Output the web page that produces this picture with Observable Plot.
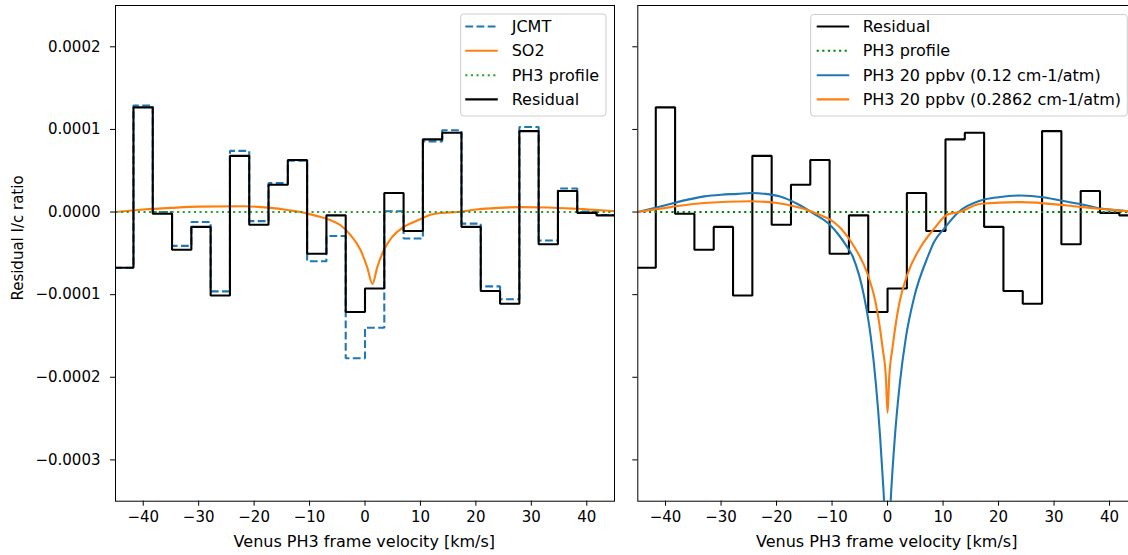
<!DOCTYPE html>
<html><head><meta charset="utf-8">
<script src="https://cdn.jsdelivr.net/npm/d3@7"></script>
<script src="https://cdn.jsdelivr.net/npm/@observablehq/plot@0.6"></script>
<style>
html,body{margin:0;padding:0;background:#fff;overflow:hidden;}
#wrap{position:relative;width:1128px;height:555px;overflow:hidden;font-family:"DejaVu Sans",sans-serif;}
.panel{position:absolute;top:0;}
#overlay{position:absolute;left:0;top:0;pointer-events:none;}
</style></head><body><div id="wrap"></div><script>
// ---- data (residual values in units of 1e-4) ----
const SCALE = 1e-4;
const velocity = [-43.50,-40.02,-36.54,-33.06,-29.58,-26.10,-22.62,-19.14,-15.66,-12.18,-8.70,-5.22,-1.74,
                  1.74,5.22,8.70,12.18,15.66,19.14,22.62,26.10,29.58,33.06,36.54,40.02,43.50];
const residualE4 = [-0.675,1.267,-0.02,-0.456,-0.18,-1.01,0.68,-0.153,0.33,0.63,-0.505,-0.04,-1.21,
                    -0.926,0.23,-0.23,0.88,0.96,-0.18,-0.955,-1.11,0.98,-0.39,0.255,-0.01,-0.04];
const jcmtE4 = [-0.675,1.29,0.0,-0.41,-0.12,-0.96,0.74,-0.11,0.35,0.62,-0.595,-0.29,-1.77,
                -1.40,0.01,-0.32,0.855,0.99,-0.14,-0.90,-1.055,1.03,-0.345,0.285,0.005,-0.035];
const so2Vel = [-45,-40,-35,-30,-22,-17,-14,-11.6,-10,-8,-6.2,-4.4,-2.6,-0.8,0.4,1.35,2.2,3.4,4.9,7.0,9.5,12,14,16.7,20,24,28,33,38,42,45];
const so2E4  = [0,0.03,0.05,0.065,0.07,0.05,0.025,0,-0.025,-0.06,-0.10,-0.16,-0.28,-0.46,-0.67,-0.87,-0.67,-0.46,-0.30,-0.18,-0.10,-0.03,-0.01,0,0.03,0.05,0.06,0.055,0.04,0.025,0.01];
const profileVel = [-45,45];
const profileE4 = [0,0];
const ph3LowVel = [-45,-42,-39,-36,-33,-30,-27,-24.5,-22,-19.5,-16.3,-13.3,-10.3,-9,-7.5,-6.2,-4.2,-3.0,-2.1,-1.33,-0.72,0,0.6,1.31,2.2,3.3,4.8,7.2,8.4,10.2,12.8,16.8,20,24,28,31.2,34.5,37.8,41,45];
const ph3LowE4  = [0,0.05,0.10,0.15,0.19,0.21,0.22,0.23,0.22,0.19,0.10,-0.02,-0.16,-0.26,-0.40,-0.55,-1.03,-1.52,-2.08,-2.73,-3.38,-4.3,-3.45,-2.73,-2.08,-1.52,-1.03,-0.55,-0.36,-0.20,0,0.14,0.18,0.20,0.18,0.14,0.10,0.05,0.025,0];
const ph3HighVel = [-45,-39.1,-33.1,-24.7,-19.9,-16.3,-12.7,-9.7,-8.4,-6.0,-3.6,-2.1,-0.9,-0.3,0,0.3,0.9,2.1,3.6,6.0,8.4,10.8,12.9,16.8,24,32.4,38,43.4,45];
const ph3HighE4  = [0,0.06,0.11,0.13,0.11,0.06,-0.02,-0.12,-0.2,-0.42,-0.75,-1.11,-1.64,-2.0,-2.43,-2.0,-1.64,-1.11,-0.75,-0.42,-0.2,-0.03,0,0.10,0.12,0.08,0.04,0.01,0];
const xTicks = [-40,-30,-20,-10,0,10,20,30,40];
const yTicks = [-0.0003,-0.0002,-0.0001,0,0.0001,0.0002];
const xLabel = "Venus PH3 frame velocity [km/s]";
const yLabel = "Residual I/c ratio";
const leftLegend = ["JCMT","SO2","PH3 profile","Residual"];
const rightLegend = ["Residual","PH3 profile","PH3 20 ppbv (0.12 cm-1/atm)","PH3 20 ppbv (0.2862 cm-1/atm)"];

// ---- helpers ----
function steps(cs, vs){
  const pts=[];
  for(let i=0;i<cs.length;i++){
    const lo = i>0 ? (cs[i-1]+cs[i])/2 : cs[0]-(cs[1]-cs[0])/2;
    const hi = i<cs.length-1 ? (cs[i]+cs[i+1])/2 : cs[i]+(cs[i]-cs[i-1])/2;
    pts.push({v:lo,y:vs[i]*SCALE},{v:hi,y:vs[i]*SCALE});
  }
  return pts;
}
const pairs=(xs,ys)=>xs.map((x,i)=>({v:x,y:ys[i]*SCALE}));

const C0="#1f77b4", C1="#ff7f0e", C2="#2ca02c", G="#008000";
const LW=2.1, DASH="7.8,3.4", DOT="2.1,3.5";
const common = {
  height:555, marginTop:5, marginBottom:54.3,
  x:{domain:[-45,45]}, y:{domain:[-0.00035,0.00025]},
  style:{fontFamily:"'DejaVu Sans'",fontSize:"15px",color:"#000",background:"transparent",overflow:"visible"}
};
const lineOpt=(stroke,extra={})=>({x:"v",y:"y",stroke,strokeWidth:LW,clip:true,...extra});

const left = Plot.plot({...common, width:620, marginLeft:115, marginRight:6,
  marks:[
    Plot.axisX({ticks:xTicks,tickFormat:d3.format("d"),tickSize:5,tickPadding:5,label:null}),
    Plot.axisY({ticks:yTicks,tickFormat:d3.format(".4f"),tickSize:5,tickPadding:10,label:null}),
    Plot.line(steps(velocity,jcmtE4),lineOpt(C0,{strokeDasharray:DASH,strokeLinecap:"butt",strokeLinejoin:"miter"})),
    Plot.line(pairs(so2Vel,so2E4),lineOpt(C1,{curve:"monotone-x"})),
    Plot.line(pairs(profileVel,profileE4),lineOpt(C2,{strokeDasharray:DOT,strokeLinecap:"butt"})),
    Plot.line(steps(velocity,residualE4),lineOpt("#000",{strokeLinejoin:"miter",strokeLinecap:"square"})),
    Plot.frame({stroke:"#000",strokeWidth:1})
  ]});
left.classList.add("panel"); left.style.left="0px";

const right = Plot.plot({...common, width:520, marginLeft:17.3, marginRight:3.2,
  marks:[
    Plot.axisX({ticks:xTicks,tickFormat:d3.format("d"),tickSize:5,tickPadding:5,label:null}),
    Plot.axisY({ticks:yTicks,tickFormat:()=>"",tickSize:5,tickPadding:0,label:null}),
    Plot.line(steps(velocity,residualE4),lineOpt("#000",{strokeLinejoin:"miter",strokeLinecap:"square"})),
    Plot.line(pairs(profileVel,profileE4),lineOpt(G,{strokeDasharray:DOT,strokeLinecap:"butt"})),
    Plot.line(pairs(ph3LowVel,ph3LowE4),lineOpt(C0,{curve:"monotone-x"})),
    Plot.line(pairs(ph3HighVel,ph3HighE4),lineOpt(C1,{curve:"monotone-x"})),
    Plot.frame({stroke:"#000",strokeWidth:1})
  ]});
right.classList.add("panel"); right.style.left="620px";

const wrap=document.getElementById("wrap");
wrap.append(left,right);

// ---- overlay: axis titles + legends ----
const svg=d3.select(wrap).append("svg").attr("id","overlay").attr("width",1128).attr("height",555)
  .style("font-family","'DejaVu Sans'").style("font-size","16px");
svg.append("text").attr("x",364.3).attr("y",541.7).attr("text-anchor","middle").attr("dominant-baseline","central").text(xLabel);
svg.append("text").attr("x",886.7).attr("y",541.7).attr("text-anchor","middle").attr("dominant-baseline","central").text(xLabel);
svg.append("text").attr("transform","translate(18.3,238) rotate(-90)").attr("text-anchor","middle").attr("dominant-baseline","central").style("font-size","15px").text(yLabel);

function legend(box, hx0, hx1, tx, labels, styles){
  svg.append("rect").attr("x",box[0]).attr("y",box[1]).attr("width",box[2]).attr("height",box[3])
    .attr("rx",3).attr("fill","white").attr("fill-opacity",0.8).attr("stroke","#cccccc").attr("stroke-width",1);
  const rows=[26.5,50.8,75.2,99.4];
  labels.forEach((lab,i)=>{
    const s=styles[i];
    svg.append("line").attr("x1",hx0).attr("x2",hx1).attr("y1",rows[i]).attr("y2",rows[i])
      .attr("stroke",s.stroke).attr("stroke-width",LW).attr("stroke-dasharray",s.dash||null).attr("stroke-linecap","butt");
    svg.append("text").attr("x",tx).attr("y",rows[i]).attr("dominant-baseline","central").attr("fill","#000").text(lab);
  });
}
legend([460.7,14,145.3,102],465.3,497.8,511.7,leftLegend,
  [{stroke:C0,dash:DASH},{stroke:C1},{stroke:C2,dash:DOT},{stroke:"#000"}]);
legend([810.7,14.5,316.6,101.5],816.7,849.2,862.7,rightLegend,
  [{stroke:"#000"},{stroke:G,dash:DOT},{stroke:C0},{stroke:C1}]);
</script></body></html>
